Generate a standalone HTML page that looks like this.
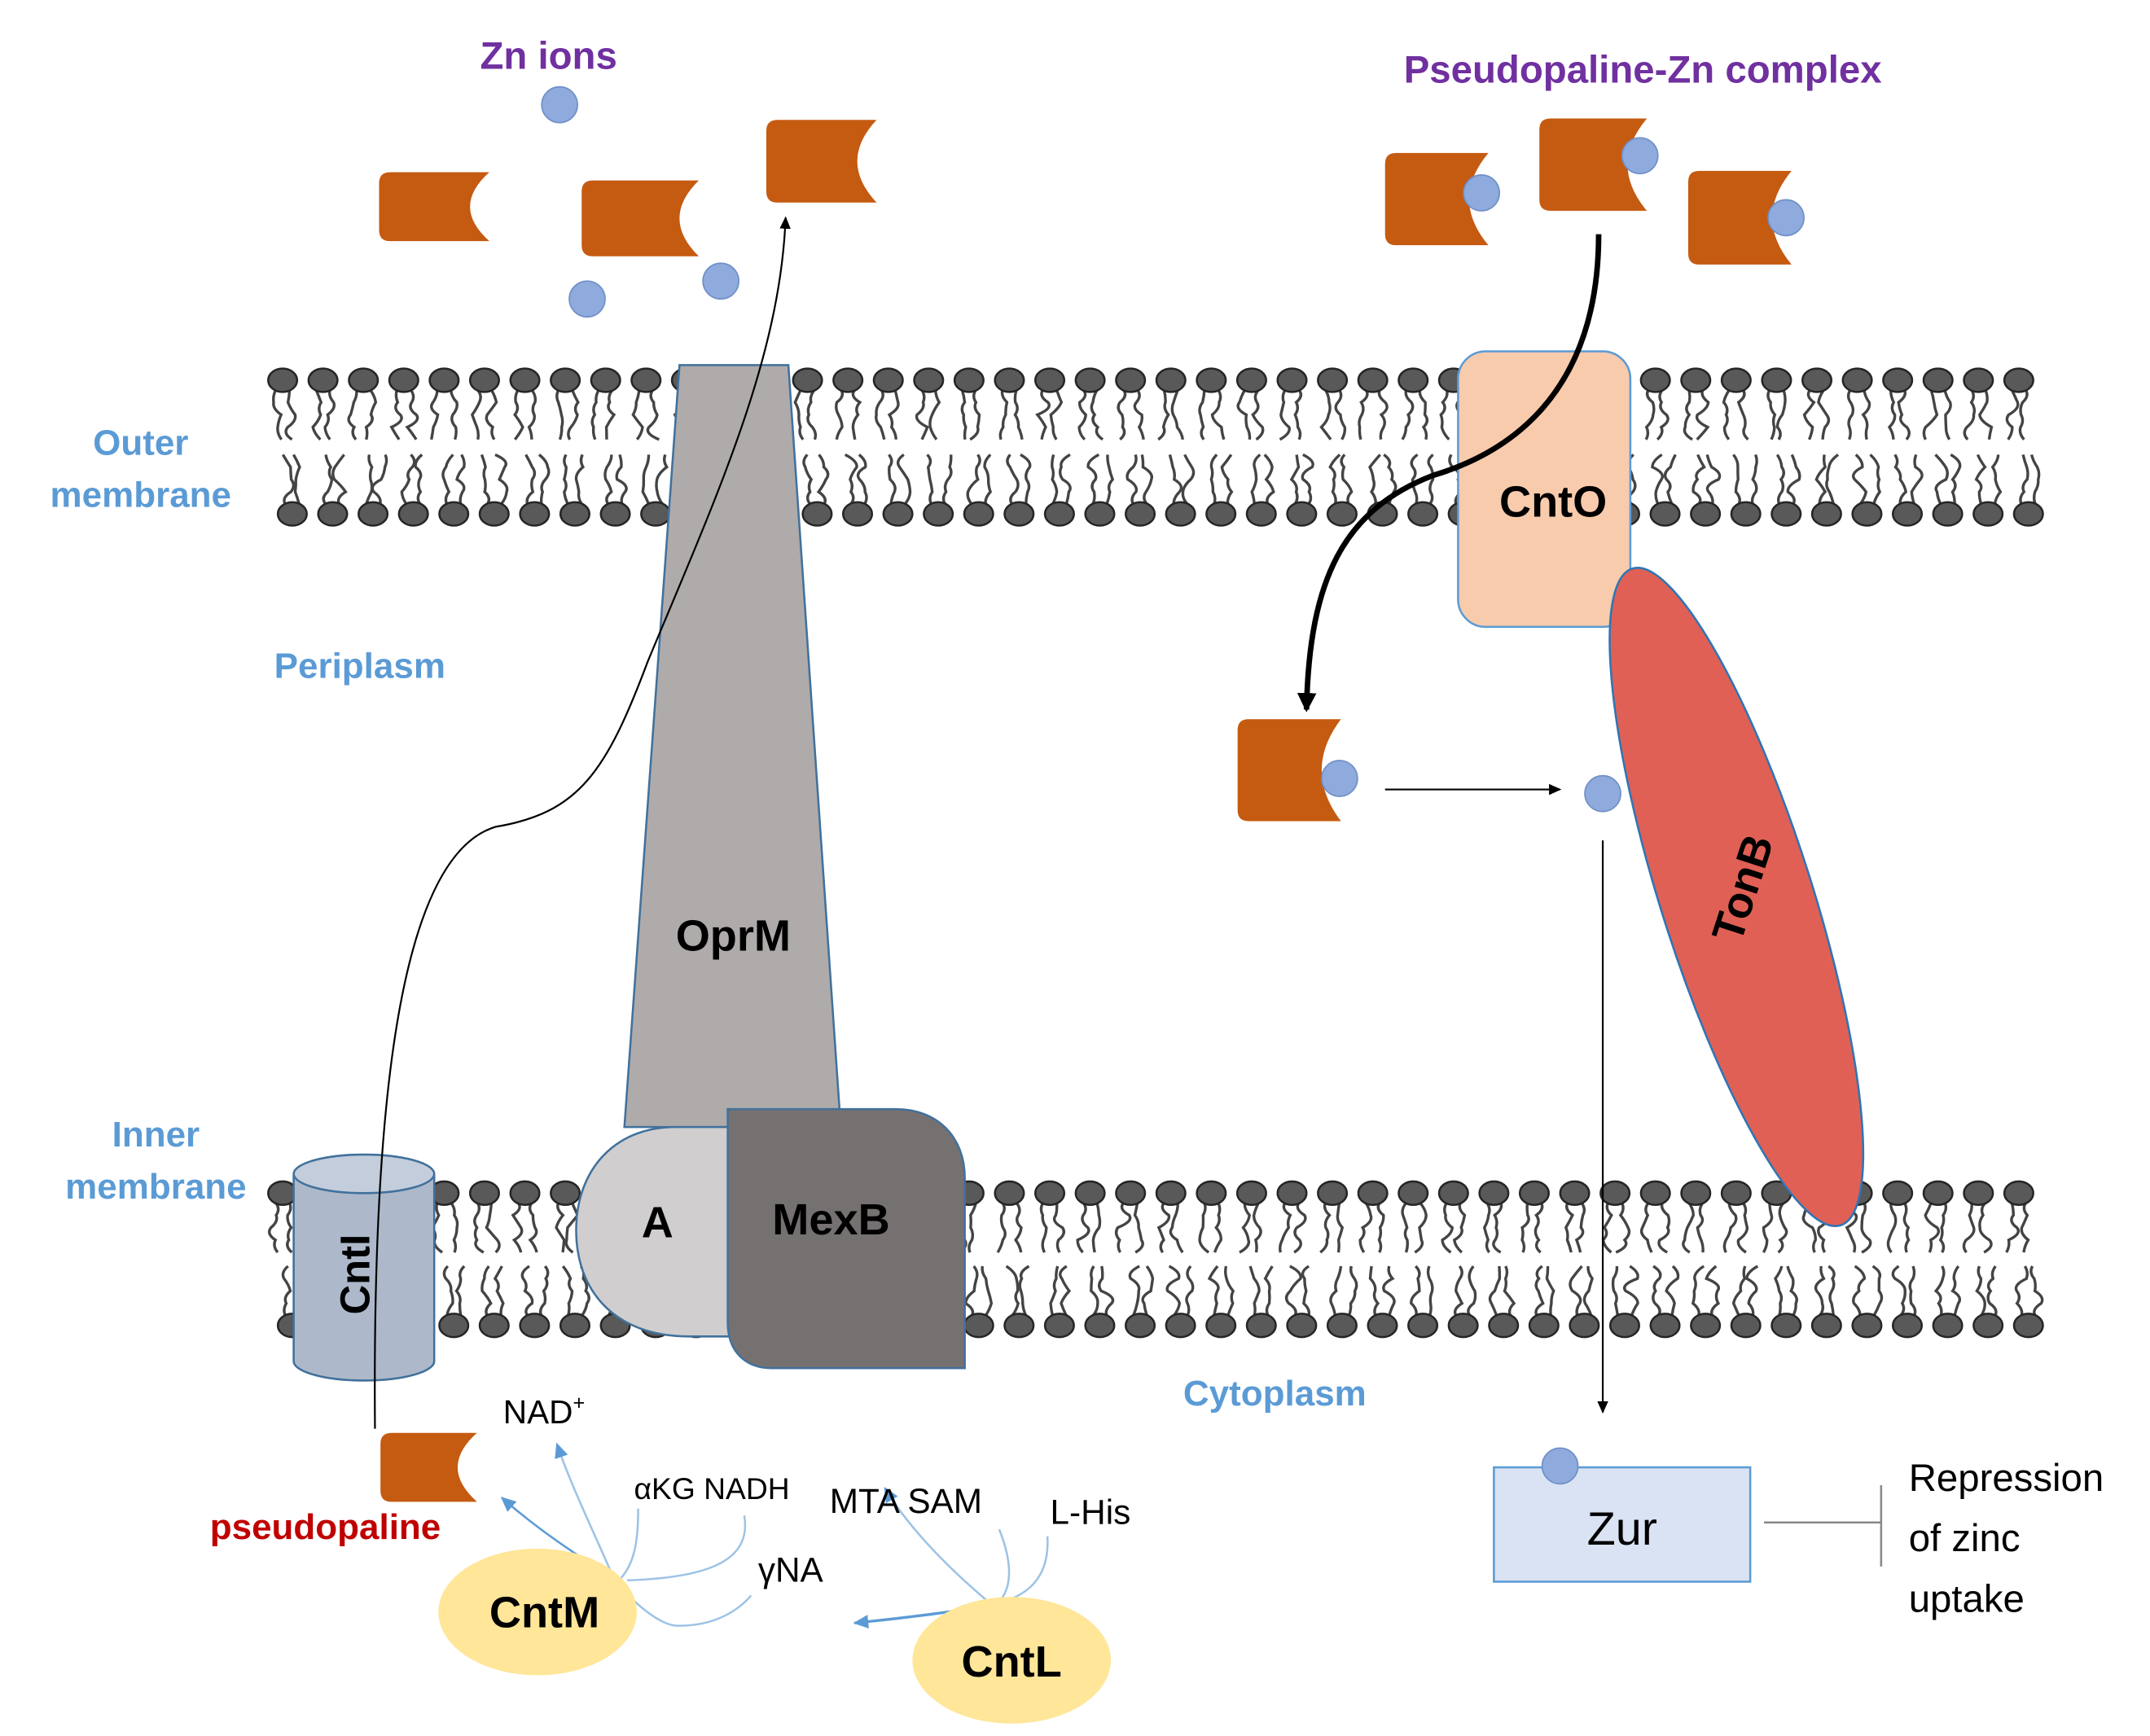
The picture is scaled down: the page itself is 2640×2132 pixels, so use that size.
<!DOCTYPE html>
<html><head><meta charset="utf-8"><style>
html,body{margin:0;padding:0;background:#fff;}
svg{display:block;}
text{font-family:"Liberation Sans",Arial,sans-serif;}
</style></head><body>
<svg id="s" width="2640" height="2132" viewBox="0 0 1560 1260" xmlns="http://www.w3.org/2000/svg">
<defs>
<marker id="ab" markerWidth="10" markerHeight="10" refX="8" refY="5" orient="auto" markerUnits="userSpaceOnUse"><path d="M0,1 L9,5 L0,9 Z" fill="#000"/></marker>
<marker id="abk" markerWidth="16" markerHeight="16" refX="12" refY="8" orient="auto" markerUnits="userSpaceOnUse"><path d="M0,1 L14,8 L0,15 Z" fill="#000"/></marker>
<marker id="abl" markerWidth="12" markerHeight="12" refX="10" refY="6" orient="auto" markerUnits="userSpaceOnUse"><path d="M0,1 L11,6 L0,11 Z" fill="#5b9bd5"/></marker>
</defs>
<g id="lip"></g>

<!-- Labels -->
<g font-weight="bold" font-size="26" fill="#5b9bd5" text-anchor="middle">
<text x="102" y="330">Outer</text><text x="102" y="368">membrane</text>
<text x="261" y="492">Periplasm</text>
<text x="113" y="832">Inner</text><text x="113" y="870">membrane</text>
<text x="925" y="1020">Cytoplasm</text>
</g>
<text x="398" y="50" font-size="28" font-weight="bold" fill="#7030a0" text-anchor="middle">Zn ions</text>
<text x="1192" y="60" font-size="28" font-weight="bold" fill="#7030a0" text-anchor="middle">Pseudopaline-Zn complex</text>

<!-- OprM -->
<path d="M493,265 L572,265 L610,818 L453,818 Z" fill="#afabab" stroke="#41719c" stroke-width="1.5"/>
<text x="532" y="690" font-size="32" font-weight="bold" text-anchor="middle">OprM</text>
<!-- A -->
<path d="M530,818 L490,818 C445,818 418,850 418,893 C418,936 445,970 500,970 L530,970 Z" fill="#d0cece" stroke="#41719c" stroke-width="1.5"/>
<text x="477" y="898" font-size="32" font-weight="bold" text-anchor="middle">A</text>
<!-- MexB -->
<path d="M528,805 L650,805 C680,805 700,825 700,855 L700,993 L560,993 C540,993 528,980 528,960 Z" fill="#767171" stroke="#41719c" stroke-width="1.5"/>
<text x="603" y="896" font-size="32" font-weight="bold" text-anchor="middle">MexB</text>
<!-- CntI -->
<path d="M213,852 L213,988 A51,14 0 0 0 315,988 L315,852" fill="#adb9ca" stroke="#41719c" stroke-width="1.5"/>
<ellipse cx="264" cy="852" rx="51" ry="14" fill="#c3cddb" stroke="#41719c" stroke-width="1.5"/>
<text transform="translate(268,925) rotate(-90)" font-size="30" font-weight="bold" text-anchor="middle">CntI</text>
<!-- CntO -->
<rect x="1058" y="255" width="125" height="200" rx="20" fill="#f8cbad" stroke="#5b9bd5" stroke-width="1.5"/>
<text x="1127" y="375" font-size="32" font-weight="bold" text-anchor="middle">CntO</text>
<!-- TonB -->
<ellipse cx="1260" cy="651" rx="250" ry="55" transform="rotate(72.4 1260 651)" fill="#e06055" stroke="#2e75b6" stroke-width="1.5"/>
<text transform="translate(1275,648) rotate(-72)" font-size="32" font-weight="bold" text-anchor="middle">TonB</text>

<!-- cups -->
<g fill="#c55a11" id="cups"></g>
<g fill="#8faadc" stroke="#7090c8" stroke-width="1" id="balls"></g>

<!-- Zur -->
<rect x="1084" y="1065" width="186" height="83" fill="#dae3f3" stroke="#5b9bd5" stroke-width="1.5"/>
<text x="1177" y="1121" font-size="34" text-anchor="middle">Zur</text>
<circle cx="1132" cy="1064" r="13" fill="#8faadc" stroke="#7090c8"/>
<line x1="1280" y1="1105" x2="1365" y2="1105" stroke="#888" stroke-width="1.5"/>
<line x1="1365" y1="1078" x2="1365" y2="1137" stroke="#888" stroke-width="1.5"/>
<g font-size="28" fill="#000"><text x="1385" y="1082">Repression</text><text x="1385" y="1126">of zinc</text><text x="1385" y="1170">uptake</text></g>

<!-- connectors -->
<path d="M272,1037 C270,800 290,620 360,600 C420,590 440,560 470,480 C520,360 566,260 570,158" fill="none" stroke="#000" stroke-width="1.3" marker-end="url(#ab)"/>
<path d="M1160,170 C1160,290 1090,330 1040,345 C975,370 950,420 948,515" fill="none" stroke="#000" stroke-width="4" marker-end="url(#abk)"/>
<line x1="1005" y1="573" x2="1132" y2="573" stroke="#000" stroke-width="1.3" marker-end="url(#ab)"/>
<line x1="1163" y1="610" x2="1163" y2="1025" stroke="#000" stroke-width="1.3" marker-end="url(#ab)"/>

<!-- metabolic arrows -->
<g fill="none" stroke="#9dc3e6" stroke-width="1.5">
<path d="M445,1145 C420,1130 390,1110 364,1087" stroke="#5b9bd5" marker-end="url(#abl)"/>
<path d="M445,1145 C430,1110 415,1080 404,1048" marker-end="url(#abl)"/>
<path d="M463,1095 C463,1120 460,1135 450,1146"/>
<path d="M540,1100 C545,1130 520,1145 455,1147"/>
<path d="M445,1145 C460,1165 480,1180 492,1180 C510,1180 530,1175 545,1158"/>
<path d="M720,1165 C690,1140 660,1110 642,1080" marker-end="url(#abl)"/>
<path d="M725,1110 C735,1135 735,1155 722,1165"/>
<path d="M760,1115 C762,1150 740,1160 720,1165"/>
<path d="M722,1165 C690,1170 650,1175 620,1178" stroke="#5b9bd5" stroke-width="2" marker-end="url(#abl)"/>
</g>
<g font-size="22" fill="#000">
<text x="365" y="1033" font-size="24">NAD<tspan font-size="15" dy="-10">+</tspan></text>
<text x="460" y="1088">αKG NADH</text>
<text x="602" y="1098" font-size="25">MTA SAM</text>
<text x="762" y="1106" font-size="25">L-His</text>
<text x="550" y="1148" font-size="25">γNA</text>
</g>
<text x="236" y="1117" font-size="26" font-weight="bold" fill="#c00000" text-anchor="middle">pseudopaline</text>
<ellipse cx="390" cy="1170" rx="72" ry="46" fill="#ffe699"/>
<text x="395" y="1181" font-size="32" font-weight="bold" text-anchor="middle">CntM</text>
<ellipse cx="734" cy="1205" rx="72" ry="46" fill="#ffe699"/>
<text x="734" y="1217" font-size="32" font-weight="bold" text-anchor="middle">CntL</text>
</svg>
<script>
var NS="http://www.w3.org/2000/svg";
function el(p,t,a){var e=document.createElementNS(NS,t);for(var k in a)e.setAttribute(k,a[k]);p.appendChild(e);return e;}
var lip=document.getElementById('lip');
var seed=3;function rnd(){seed=(seed*9301+49297)%233280;return seed/233280;}
function tail(x,y,dir){ // dir 1 downward
  var d="M"+x+","+y;var cx=x;
  for(var i=1;i<=4;i++){var nx=x+(rnd()-0.5)*9;var ny=y+dir*i*9;d+=" Q"+(cx+(rnd()-0.5)*8)+","+(ny-dir*4.5)+" "+nx+","+ny;cx=nx;}
  el(lip,'path',{d:d,fill:'none',stroke:'#444','stroke-width':2});
}
function row(y,x0,x1,dir){
  for(var x=x0;x<=x1;x+=29.3){
    tail(x-5,y+dir*7,dir);tail(x+5,y+dir*7,dir);
    el(lip,'ellipse',{cx:x,cy:y,rx:10.5,ry:8.5,fill:'#595959',stroke:'#262626','stroke-width':1.5});
  }
}
row(276,205,1490,1);row(373,212,1495,-1);
row(866,205,1490,1);row(962,212,1495,-1);
var cups=document.getElementById('cups');
[[275,125,80,50],[422,131,85,55],[556,87,80,60],[1005,111,75,67],[1117,86,78,67],[1225,124,75,68],[898,522,75,74],[276,1040,70,50]].forEach(function(c){
  var x=c[0],y=c[1],w=c[2],h=c[3];
  el(cups,'path',{d:"M"+(x+8)+","+y+" H"+(x+w)+" Q"+(x+w-28)+","+(y+h/2)+" "+(x+w)+","+(y+h)+" H"+(x+8)+" Q"+x+","+(y+h)+" "+x+","+(y+h-8)+" V"+(y+8)+" Q"+x+","+y+" "+(x+8)+","+y+" Z"});
});
var balls=document.getElementById('balls');
[[406,76],[426,217],[523,204],[1075,140],[1190,113],[1296,158],[972,565],[1163,576]].forEach(function(b){el(balls,'circle',{cx:b[0],cy:b[1],r:13});});
</script>
</body></html>
